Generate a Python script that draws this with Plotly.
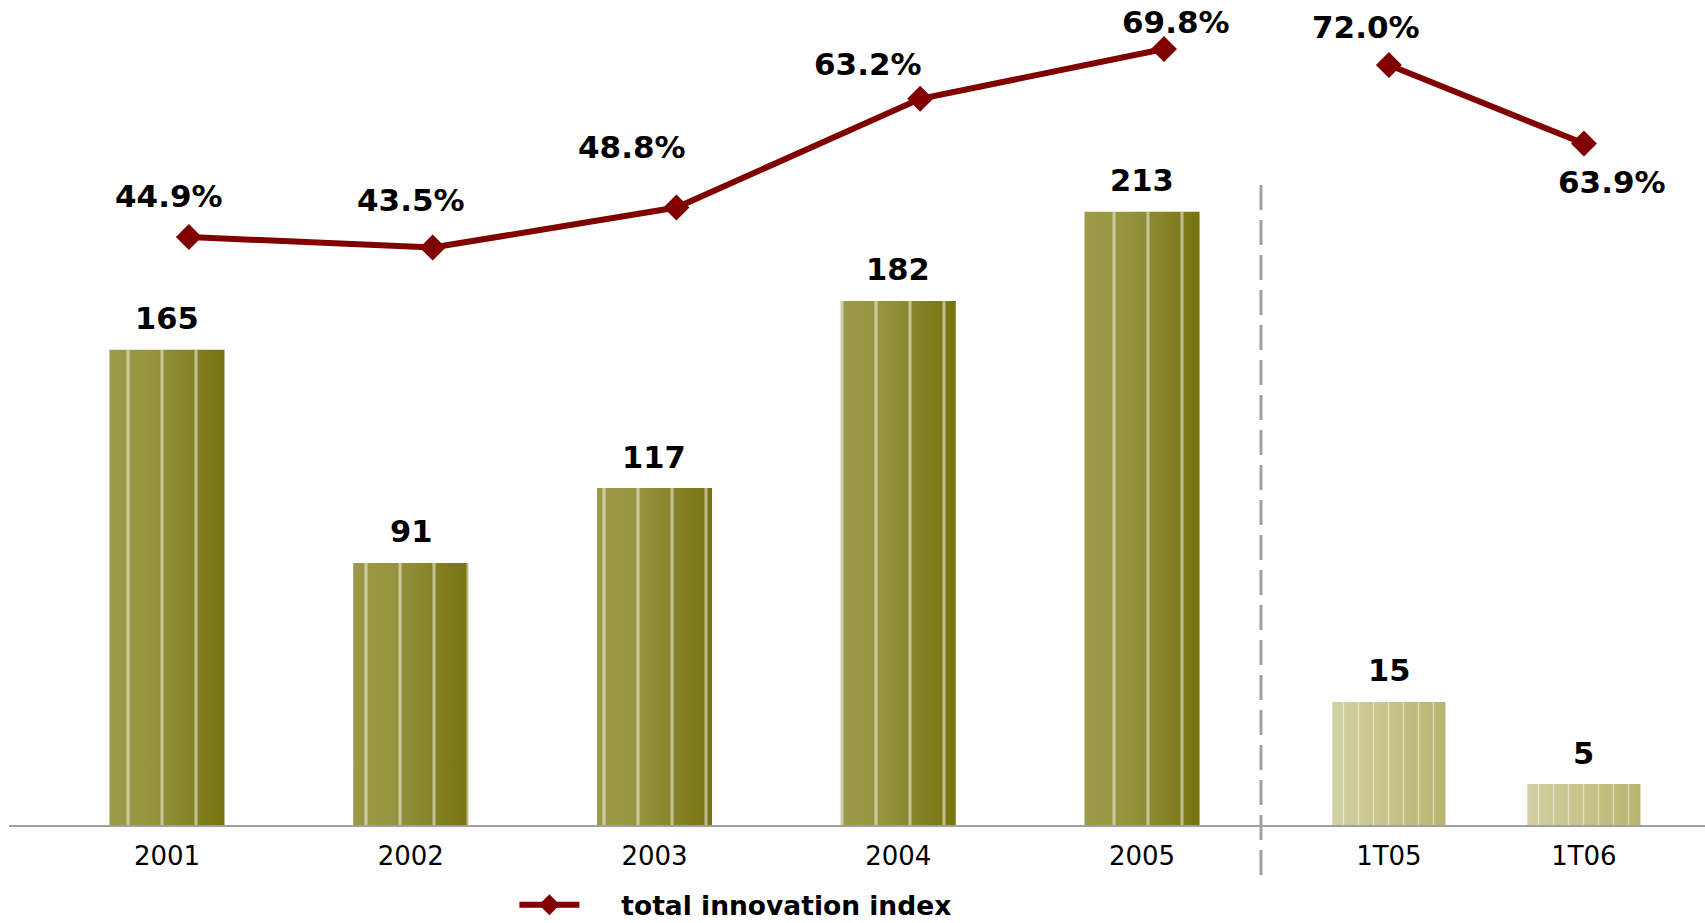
import plotly.graph_objects as go

# ---- data ----
years = ["2001", "2002", "2003", "2004", "2005"]
year_counts = [165, 91, 117, 182, 213]
year_index = [44.9, 43.5, 48.8, 63.2, 69.8]

quarters = ["1T05", "1T06"]
quarter_counts = [15, 5]
quarter_index = [72.0, 63.9]

# ---- layout constants ----
year_pos = [0, 1, 2, 3, 4]
quarter_pos = [0, 1]
year_bar_w = 0.472
quarter_bar_w = 0.58
line_shift = 0.09  # markers sit slightly right of the bar centres

# label offsets (px) for the percentage labels relative to their markers
year_lbl_dx = [-20, -22, -44, -52, 12]
year_lbl_dy = [41, 48, 61, 35, 27]
quarter_lbl_dx = [-23, 28]
quarter_lbl_dy = [38, -38]

SPLIT = 0.7382
LINE_RED = "#800000"
AXIS_GREY = "#a0a0a0"
FONT = "DejaVu Sans, Verdana, sans-serif"

YEAR_GRAD = [[0, "#9c9a48"], [0.35, "#969440"], [1, "#767310"]]
QTR_GRAD = [[0, "#d3d1a3"], [1, "#b7b56d"]]

fig = go.Figure()


def gradient_bars(pos, vals, width, grad, xa, ya):
    for p, v in zip(pos, vals):
        x0, x1 = p - width / 2, p + width / 2
        fig.add_trace(go.Scatter(
            x=[x0, x1, x1, x0, x0], y=[0, 0, v, v, 0],
            mode="lines", line=dict(width=0), fill="toself",
            fillgradient=dict(type="horizontal", colorscale=grad),
            xaxis=xa, yaxis=ya, showlegend=False, hoverinfo="skip",
        ))


def stripe_bars(pos, vals, width, size, xa, ya):
    fig.add_trace(go.Bar(
        x=pos, y=vals, width=width,
        marker=dict(color="rgba(0,0,0,0)", line=dict(width=0),
                    pattern=dict(shape="|", fgcolor="white", bgcolor="rgba(0,0,0,0)",
                                 size=size, solidity=0.09, fillmode="overlay")),
        xaxis=xa, yaxis=ya, showlegend=False, hoverinfo="skip",
    ))


# annual block
gradient_bars(year_pos, year_counts, year_bar_w, YEAR_GRAD, "x", "y")
stripe_bars(year_pos, year_counts, year_bar_w, 34, "x", "y2")
fig.add_trace(go.Scatter(
    x=[p + line_shift for p in year_pos], y=year_index, mode="lines+markers",
    line=dict(color=LINE_RED, width=6),
    marker=dict(symbol="diamond", size=20, color=LINE_RED),
    name="\u00a0\u00a0\u00a0\u00a0total innovation index",
    xaxis="x", yaxis="y3", showlegend=True,
))

# quarterly block
gradient_bars(quarter_pos, quarter_counts, quarter_bar_w, QTR_GRAD, "x2", "y4")
stripe_bars(quarter_pos, quarter_counts, quarter_bar_w, 15, "x2", "y5")
fig.add_trace(go.Scatter(
    x=quarter_pos, y=quarter_index, mode="lines+markers",
    line=dict(color=LINE_RED, width=6),
    marker=dict(symbol="diamond", size=20, color=LINE_RED),
    xaxis="x2", yaxis="y6", showlegend=False,
))

annotations = []
count_font = dict(family=FONT, size=30.5, color="black", weight="bold")
pct_font = dict(family=FONT, size=31, color="black", weight="bold")
for p, v in zip(year_pos, year_counts):
    annotations.append(dict(x=p, y=v, xref="x", yref="y2", text=str(v), showarrow=False,
                            font=count_font, yanchor="middle", yshift=31))
for p, v in zip(quarter_pos, quarter_counts):
    annotations.append(dict(x=p, y=v, xref="x2", yref="y5", text=str(v), showarrow=False,
                            font=count_font, yanchor="middle", yshift=31))
for p, v, dx, dy in zip(year_pos, year_index, year_lbl_dx, year_lbl_dy):
    annotations.append(dict(x=p + line_shift, y=v, xref="x", yref="y3", text=f"{v:.1f}%",
                            showarrow=False, font=pct_font, yanchor="middle",
                            xshift=dx, yshift=dy))
for p, v, dx, dy in zip(quarter_pos, quarter_index, quarter_lbl_dx, quarter_lbl_dy):
    annotations.append(dict(x=p, y=v, xref="x2", yref="y6", text=f"{v:.1f}%",
                            showarrow=False, font=pct_font, yanchor="middle",
                            xshift=dx, yshift=dy))

xaxis_common = dict(showline=True, linecolor=AXIS_GREY, linewidth=2, showgrid=False,
                    zeroline=False, ticks="", tickfont=dict(family=FONT, size=26, color="black"),
                    ticklabelstandoff=7, fixedrange=True)
hidden_y = dict(visible=False, showgrid=False, zeroline=False, fixedrange=True)

fig.update_layout(
    width=1705, height=923,
    margin=dict(l=9, r=0, t=0, b=98, autoexpand=False),
    paper_bgcolor="white", plot_bgcolor="white",
    barmode="overlay",
    showlegend=True,
    legend=dict(orientation="h", x=0.298, y=-0.097, xanchor="left", yanchor="middle",
                font=dict(family=FONT, size=26.5, color="black", weight="bold"),
                itemwidth=60, borderwidth=0, bgcolor="rgba(0,0,0,0)"),
    xaxis=dict(domain=[0, SPLIT], range=[-0.648, 4.488], tickvals=year_pos, ticktext=years,
               anchor="y", **xaxis_common),
    xaxis2=dict(domain=[SPLIT, 1], range=[-0.656, 1.621], tickvals=quarter_pos,
                ticktext=quarters, anchor="y4", **xaxis_common),
    yaxis=dict(range=[0, 286.5], anchor="x", **hidden_y),
    yaxis2=dict(range=[0, 286.5], overlaying="y", anchor="x", **hidden_y),
    yaxis3=dict(range=[-32.98, 76.29], overlaying="y", anchor="x", **hidden_y),
    yaxis4=dict(range=[0, 100.6], anchor="x2", **hidden_y),
    yaxis5=dict(range=[0, 100.6], overlaying="y4", anchor="x2", **hidden_y),
    yaxis6=dict(range=[-6.35, 78.70], overlaying="y4", anchor="x2", **hidden_y),
    annotations=annotations,
    shapes=[dict(type="line", xref="paper", yref="paper", x0=SPLIT, x1=SPLIT,
                 y0=-0.0606, y1=0.778, line=dict(color=AXIS_GREY, width=3, dash="25px,10px"))],
)

fig.write_html("out.html")
